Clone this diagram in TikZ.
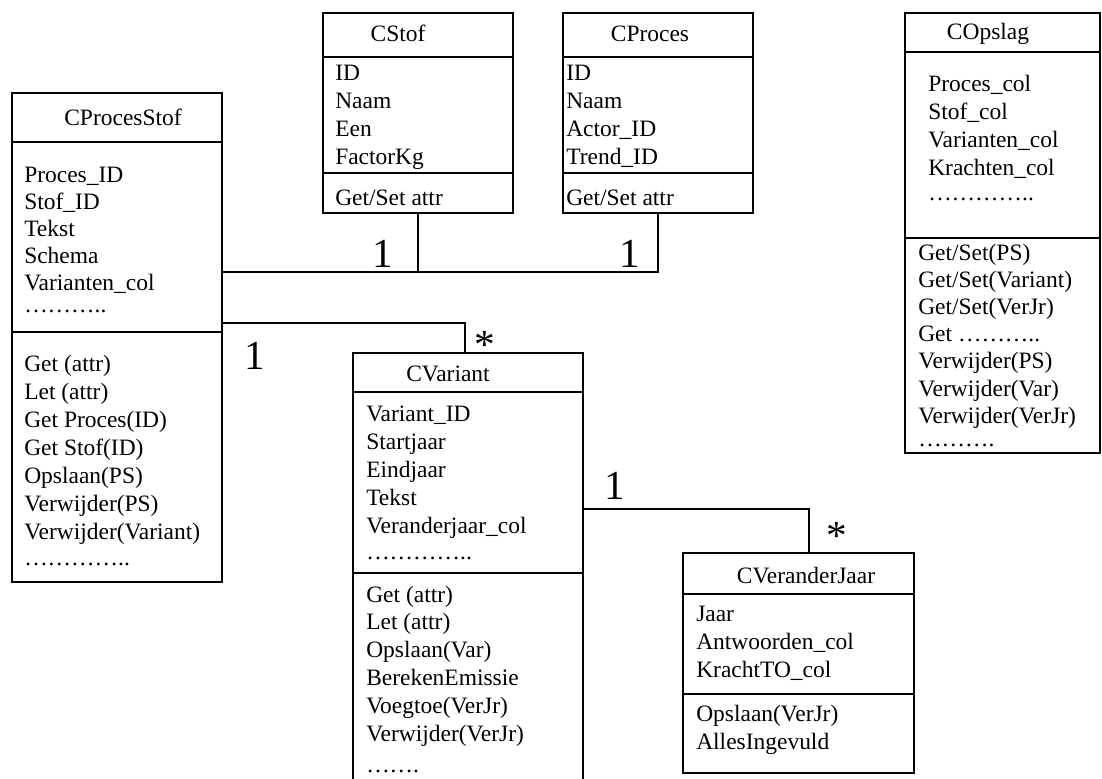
\documentclass[tikz,border=0pt]{standalone}
\usepackage{fontspec}
\setmainfont{Liberation Serif}
\usetikzlibrary{fit}

\tikzset{
  cls/.style={draw, inner sep=0pt, line width=0.8pt},
  sepline/.style={line width=0.8pt},
  assoc/.style={line width=0.8pt},
  txt/.style={anchor=base west, inner sep=0pt, font=\fontsize{17.6}{21}\selectfont},
  ttl/.style={anchor=base, inner sep=0pt, font=\fontsize{17.6}{21}\selectfont},
  mult/.style={anchor=base, inner sep=0pt, font=\fontsize{31}{36}\selectfont},
}

\begin{document}
\begin{tikzpicture}[x=0.75pt, y=-0.75pt]
  \useasboundingbox (0,0) rectangle (1102,778);
  \fill[white] (0,0) rectangle (1102,778);
  \clip (0,0) rectangle (1102,778);

  % ---------- class boxes ----------
  \node[cls, fit={(12,93)(222,582)}] (ps) {};
  \node[cls, fit={(323,13)(513,213)}] (stof) {};
  \node[cls, fit={(563,13)(753,213)}] (proc) {};
  \node[cls, fit={(905,13)(1100,453)}] (ops) {};
  \node[cls, fit={(353,353)(583,800)}] (var) {};
  \node[cls, fit={(683,553)(914,773)}] (vj) {};

  % compartment separators
  \draw[sepline] (ps.west |- 0,142) -- (ps.east |- 0,142);
  \draw[sepline] (ps.west |- 0,332) -- (ps.east |- 0,332);
  \draw[sepline] (stof.west |- 0,57) -- (stof.east |- 0,57);
  \draw[sepline] (stof.west |- 0,173) -- (stof.east |- 0,173);
  \draw[sepline] (proc.west |- 0,57) -- (proc.east |- 0,57);
  \draw[sepline] (proc.west |- 0,173) -- (proc.east |- 0,173);
  \draw[sepline] (ops.west |- 0,52) -- (ops.east |- 0,52);
  \draw[sepline] (ops.west |- 0,238) -- (ops.east |- 0,238);
  \draw[sepline] (var.west |- 0,392) -- (var.east |- 0,392);
  \draw[sepline] (var.west |- 0,573) -- (var.east |- 0,573);
  \draw[sepline] (vj.west |- 0,594) -- (vj.east |- 0,594);
  \draw[sepline] (vj.west |- 0,694) -- (vj.east |- 0,694);

  % ---------- CProcesStof ----------
  \node[ttl] (ps-t) at (123,125) {CProcesStof};
  \foreach \t [count=\i] in {Proces\_ID, Stof\_ID, Tekst, Schema, Varianten\_col}
    \node[txt] (ps-a\i) at (24,{182+27*(\i-1)}) {\t};
  \node[txt] (ps-ad) at (24,312) {………..};
  \foreach \t [count=\i] in {Get (attr), Let (attr), Get Proces(ID), Get Stof(ID), Opslaan(PS), Verwijder(PS), Verwijder(Variant)}
    \node[txt] (ps-m\i) at (24,{371+28*(\i-1)}) {\t};
  \node[txt] (ps-md) at (24,565) {…………..};

  % ---------- CStof ----------
  \node[ttl] (stof-t) at (398,41) {CStof};
  \foreach \t [count=\i] in {ID, Naam, Een, FactorKg}
    \node[txt] (stof-a\i) at (335,{80+28*(\i-1)}) {\t};
  \node[txt] (stof-m1) at (335,205) {Get/Set attr};

  % ---------- CProces ----------
  \node[ttl] (proc-t) at (650,41) {CProces};
  \foreach \t [count=\i] in {ID, Naam, Actor\_ID, Trend\_ID}
    \node[txt] (proc-a\i) at (566,{80+28*(\i-1)}) {\t};
  \node[txt] (proc-m1) at (566,205) {Get/Set attr};

  % ---------- COpslag ----------
  \node[ttl] (ops-t) at (988,39) {COpslag};
  \foreach \t [count=\i] in {Proces\_col, Stof\_col, Varianten\_col, Krachten\_col}
    \node[txt] (ops-a\i) at (928,{91+28*(\i-1)}) {\t};
  \node[txt] (ops-ad) at (928,200) {…………..};
  \foreach \t [count=\i] in {Get/Set(PS), Get/Set(Variant), Get/Set(VerJr), Get ……….., Verwijder(PS), Verwijder(Var), Verwijder(VerJr)}
    \node[txt] (ops-m\i) at (918,{260+27.2*(\i-1)}) {\t};
  \node[txt] (ops-md) at (918,446) {……….};

  % ---------- CVariant ----------
  \node[ttl] (var-t) at (448,381) {CVariant};
  \foreach \t [count=\i] in {Variant\_ID, Startjaar, Eindjaar, Tekst, Veranderjaar\_col}
    \node[txt] (var-a\i) at (366,{421+28*(\i-1)}) {\t};
  \node[txt] (var-ad) at (366,559) {…………..};
  \foreach \t [count=\i] in {Get (attr), Let (attr), Opslaan(Var), BerekenEmissie, Voegtoe(VerJr), Verwijder(VerJr)}
    \node[txt] (var-m\i) at (366,{602+27.8*(\i-1)}) {\t};
  \node[txt] (var-md) at (366,772) {…….};

  % ---------- CVeranderJaar ----------
  \node[ttl] (vj-t) at (806,583) {CVeranderJaar};
  \foreach \t [count=\i] in {Jaar, Antwoorden\_col, KrachtTO\_col}
    \node[txt] (vj-a\i) at (696,{621+28*(\i-1)}) {\t};
  \foreach \t [count=\i] in {Opslaan(VerJr), AllesIngevuld}
    \node[txt] (vj-m\i) at (696,{721+28*(\i-1)}) {\t};

  % ---------- associations ----------
  \coordinate (j1) at (0,272);
  \draw[assoc, line width=1.3pt] (ps.east |- j1) -- (stof.south |- j1);
  \draw[assoc] (stof.south) -- (stof.south |- j1) -- (proc.south |- j1) -- (proc.south);

  \coordinate (j2) at (465,323);
  \draw[assoc] (ps.east |- j2) -- (j2) -- (j2 |- var.north);

  \coordinate (j3) at (809,509);
  \draw[assoc] (var.east |- j3) -- (j3) -- (j3 |- vj.north);

  % multiplicities
  \node[mult] (m1) at (383,267) {1};
  \node[mult] (m2) at (630,267) {1};
  \node[mult] (m3) at (255,369) {1};
  \node[mult] (m4) at (485,358) {*};
  \node[mult] (m5) at (615,499) {1};
  \node[mult] (m6) at (837,549) {*};
\end{tikzpicture}
\end{document}
